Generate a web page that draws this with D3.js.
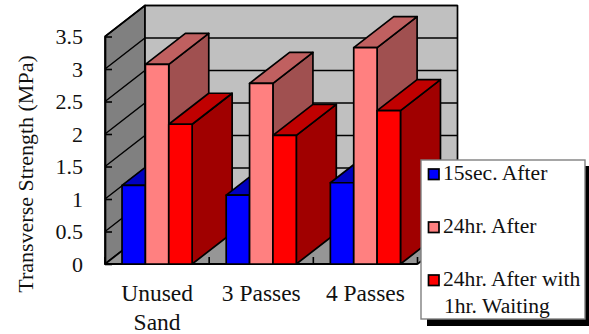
<!DOCTYPE html>
<html>
<head>
<meta charset="utf-8">
<script src="https://cdn.jsdelivr.net/npm/d3@7"></script>
<style>
  html, body { margin: 0; padding: 0; background: #fff; }
  svg { display: block; }
  text { font-family: "Liberation Serif", "Times New Roman", serif; fill: #111; }
</style>
</head>
<body>
<svg id="chart" width="589" height="334"></svg>
<script>
const categories = [['Unused', 'Sand'], ['3 Passes'], ['4 Passes']];
const seriesNames = ['15sec. After', '24hr. After', '24hr. After with'];
const legendExtra = [null, null, '1hr. Waiting'];
const fifteenSec = [1.21, 1.06, 1.25];
const twentyFourHr = [3.07, 2.78, 3.33];
const withWaiting = [2.15, 1.98, 2.36];
const yTicks = [0, 0.5, 1, 1.5, 2, 2.5, 3, 3.5];
const seriesValues = [fifteenSec, twentyFourHr, withWaiting];

// front, top, side
const faceColors = [
    ['#0000ff', '#0000c0', '#0000a0'],
    ['#ff8080', '#c06060', '#a05050'],
    ['#ff0000', '#c00000', '#a00000'],
];

const left = 105, right = 417.5, bottom = 264, top35 = 36.5;
const depthX = 40, depthY = -31;
const wallTop = top35 + depthY;

const svg = d3.select('#chart');
const catKeys = categories.map((d) => d.join(' '));

const x = d3.scaleBand().domain(catKeys).range([left, right]).paddingInner(0.327).paddingOuter(0.1635);
const xSeries = d3.scaleBand().domain(d3.range(3)).range([0, x.bandwidth()]);
const y = d3.scaleLinear().domain([0, 3.5]).range([bottom, top35]);

const poly = (pts) => pts.map((p) => p.join(',')).join(' ');
function addPoly(g, pts, fill) {
    return g.append('polygon').attr('points', poly(pts)).attr('fill', fill)
        .attr('stroke', '#000').attr('stroke-width', 1.7).attr('stroke-linejoin', 'round');
}

// walls and floor
const walls = svg.append('g');
addPoly(walls, [[left, top35], [left + depthX, wallTop], [left + depthX, bottom + depthY], [left, bottom]], '#808080');
addPoly(walls, [[left + depthX, wallTop], [right + depthX, wallTop], [right + depthX, bottom + depthY], [left + depthX, bottom + depthY]], '#c0c0c0');
addPoly(walls, [[left, bottom], [left + depthX, bottom + depthY], [right + depthX, bottom + depthY], [right, bottom]], '#969696');

// gridlines over the two walls
yTicks.filter((d) => d > 0).forEach((t) => {
    walls.append('polyline')
        .attr('points', poly([[left, y(t)], [left + depthX, y(t) + depthY], [right + depthX, y(t) + depthY]]))
        .attr('fill', 'none').attr('stroke', '#000').attr('stroke-width', 1.4);
});

// y axis
const yAxis = d3.axisLeft(y).tickValues(yTicks).tickFormat((d) => d).tickSizeInner(-7).tickSizeOuter(0).tickPadding(22);
const yG = svg.append('g').attr('transform', `translate(${left},0)`).call(yAxis);
yG.selectAll('text').attr('font-size', 22).attr('font-family', '"Liberation Serif"').attr('fill', '#111');
yG.selectAll('line').attr('stroke', '#000').attr('stroke-width', 1.6);
yG.select('.domain').attr('stroke', '#000').attr('stroke-width', 1.7);

// x axis, ticks sit on the category boundaries
const xG = svg.append('g').attr('transform', `translate(0,${bottom})`);
xG.append('line').attr('x1', left).attr('x2', right).attr('stroke', '#000').attr('stroke-width', 2);
d3.range(catKeys.length + 1).forEach((i) => {
    const tx = left + i * x.step();
    xG.append('line').attr('x1', tx).attr('x2', tx).attr('y1', 0).attr('y2', -7).attr('stroke', '#000').attr('stroke-width', 1.6);
});
categories.forEach((lines, i) => {
    const t = xG.append('text')
        .attr('text-anchor', 'middle')
        .attr('font-size', 23.5);
    lines.forEach((line, j) => {
        t.append('tspan')
            .attr('x', x(catKeys[i]) + x.bandwidth() / 2)
            .attr('y', 37 + j * 29)
            .text(line);
    });
});

// bars, painted left to right so the later ones cover the earlier sides
const bars = svg.append('g');
catKeys.forEach((cat, c) => {
    seriesValues.forEach((vals, s) => {
        const x0 = x(cat) + xSeries(s);
        const x1 = x0 + xSeries.bandwidth();
        const yt = y(vals[c]);
        const [front, topFace, side] = faceColors[s];
        const g = bars.append('g');
        addPoly(g, [[x1, yt], [x1 + depthX, yt + depthY], [x1 + depthX, bottom + depthY], [x1, bottom]], side);
        addPoly(g, [[x0, yt], [x0 + depthX, yt + depthY], [x1 + depthX, yt + depthY], [x1, yt]], topFace);
        addPoly(g, [[x0, yt], [x1, yt], [x1, bottom], [x0, bottom]], front);
    });
});

// axis title
svg.append('text')
    .attr('transform', `translate(33,174) rotate(-90)`)
    .attr('text-anchor', 'middle')
    .attr('font-size', 22)
    .text('Transverse Strength (MPa)');

// legend
const legend = svg.append('g');
legend.append('rect').attr('x', 427).attr('y', 166).attr('width', 162).attr('height', 160).attr('fill', '#000');
legend.append('rect').attr('x', 421).attr('y', 160).attr('width', 164).attr('height', 159)
    .attr('fill', '#fff').attr('stroke', '#808080').attr('stroke-width', 1.4);
const legendBase = [180, 233, 286];
seriesNames.forEach((name, i) => {
    legend.append('rect').attr('x', 428.5).attr('y', legendBase[i] - 11).attr('width', 10.5).attr('height', 10.5)
        .attr('fill', faceColors[i][0]).attr('stroke', '#000').attr('stroke-width', 1.7);
    legend.append('text').attr('x', 443).attr('y', legendBase[i]).attr('font-size', 21.6).text(name);
    if (legendExtra[i]) {
        legend.append('text').attr('x', 444).attr('y', legendBase[i] + 27).attr('font-size', 21.6).text(legendExtra[i]);
    }
});
</script>
</body>
</html>
